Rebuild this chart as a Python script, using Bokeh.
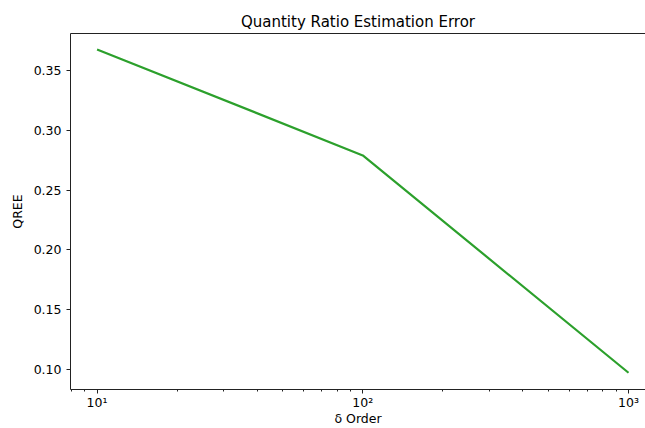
from bokeh.plotting import figure
from bokeh.models import FixedTicker, LogAxis, PrintfTickFormatter, Range1d
from bokeh.embed import file_html
from bokeh.resources import INLINE

# data
delta_order = [10, 100, 1000]
qree = [0.3675, 0.279, 0.0975]
y_ticks = [0.10, 0.15, 0.20, 0.25, 0.30, 0.35]
x_ticks = [10, 100, 1000]
x_tick_labels = {10: "10\u00b9", 100: "10\u00b2", 1000: "10\u00b3"}

FONT = "DejaVu Sans"
x_start = 10 ** 0.9
x_end = 10 ** (3 + 17 / 266)

p = figure(width=645, height=428, x_axis_type="log",
           x_range=Range1d(x_start, x_end), y_range=Range1d(0.0835, 0.3808),
           output_backend="svg", toolbar_location=None,
           min_border_left=70, min_border_right=0, min_border_top=33, min_border_bottom=38,
           title="Quantity Ratio Estimation Error")
p.outline_line_color = None
p.grid.visible = False
p.background_fill_color = "white"
p.border_fill_color = "white"

p.line(delta_order, qree, line_color="#2ca02c", line_width=2.2)

minor = []
for dec in [1, 10, 100, 1000]:
    for m in range(2, 10):
        minor.append(m * dec)

p.xaxis.ticker = FixedTicker(ticks=x_ticks, minor_ticks=minor)
p.xaxis.major_label_overrides = x_tick_labels
p.yaxis.ticker = FixedTicker(ticks=y_ticks)
p.yaxis.formatter = PrintfTickFormatter(format="%.2f")

for ax in [p.xaxis[0], p.yaxis[0]]:
    ax.axis_line_color = "#222222"
    ax.major_tick_line_color = "#222222"
    ax.minor_tick_line_color = "#222222"
    ax.major_tick_in = 0
    ax.major_tick_out = 4
    ax.minor_tick_in = 0
    ax.minor_tick_out = 2
    ax.major_label_text_font = FONT
    ax.major_label_text_font_size = "12.5px"
    ax.major_label_text_color = "black"
    ax.axis_label_text_font = FONT
    ax.axis_label_text_font_size = "12.5px"
    ax.axis_label_text_font_style = "normal"
    ax.axis_label_text_color = "black"

p.yaxis.major_label_standoff = 5
p.xaxis.major_label_standoff = 1
p.yaxis.minor_tick_line_color = None
p.xaxis.axis_label = "\u03b4 Order"
p.yaxis.axis_label = "QREE"
p.xaxis.axis_label_standoff = -2
p.yaxis.axis_label_standoff = 6

top = LogAxis(ticker=FixedTicker(ticks=[], minor_ticks=[]),
              axis_line_color="#222222", major_tick_line_color=None, minor_tick_line_color=None,
              major_tick_out=0, major_tick_in=0, minor_tick_out=0, minor_tick_in=0,
              major_label_standoff=0)
p.add_layout(top, "above")

p.title.text_font = FONT
p.title.text_font_size = "15px"
p.title.text_font_style = "normal"
p.title.text_color = "black"
p.title.align = "center"
p.title.offset = 5
p.title.standoff = 5

open("out.html", "w").write(file_html(p, INLINE))
